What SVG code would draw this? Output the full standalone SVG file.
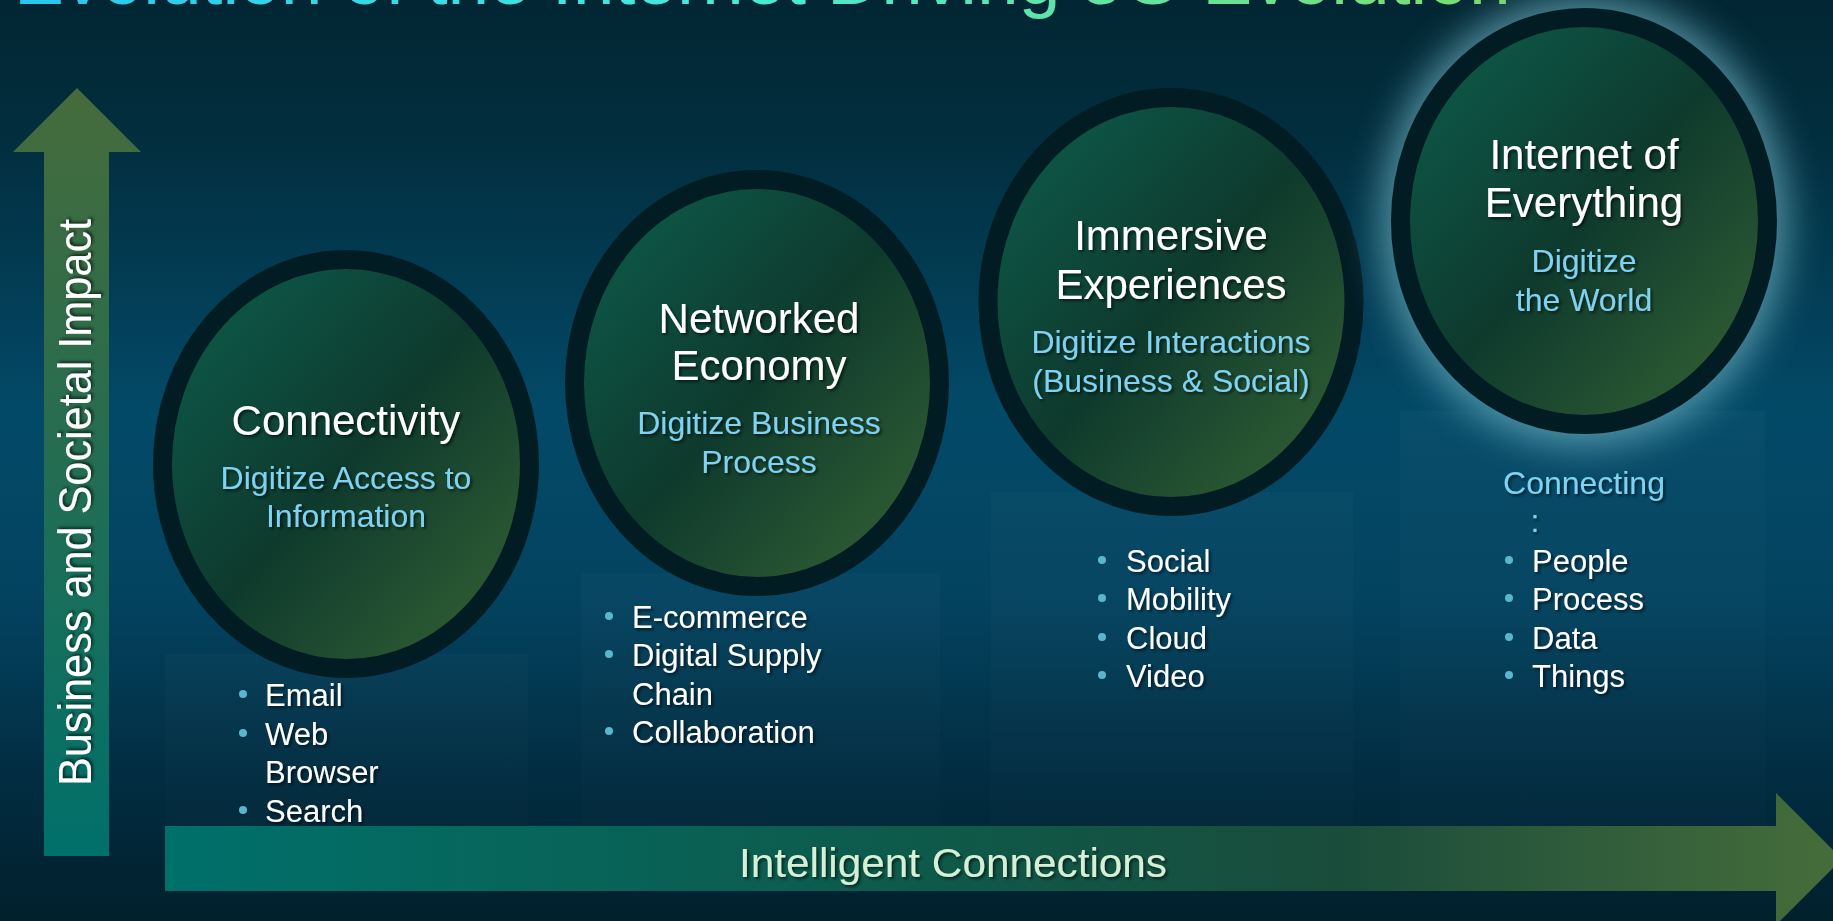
<svg xmlns="http://www.w3.org/2000/svg" width="1833" height="921" viewBox="0 0 1833 921">
<defs>
<linearGradient id="bg" x1="0" y1="0" x2="0" y2="1">
<stop offset="0" stop-color="#022633"/>
<stop offset="0.15" stop-color="#022e3e"/>
<stop offset="0.45" stop-color="#034a68"/>
<stop offset="0.65" stop-color="#034360"/>
<stop offset="0.85" stop-color="#022c40"/>
<stop offset="1" stop-color="#01202c"/>
</linearGradient>
<linearGradient id="titleGrad" gradientUnits="userSpaceOnUse" x1="14" y1="0" x2="1508" y2="0">
<stop offset="0" stop-color="#27c6ee"/>
<stop offset="0.45" stop-color="#45eadc"/>
<stop offset="1" stop-color="#7ddc6e"/>
</linearGradient>
<linearGradient id="vArrow" gradientUnits="userSpaceOnUse" x1="0" y1="88" x2="0" y2="856">
<stop offset="0" stop-color="#466b3b"/>
<stop offset="1" stop-color="#00706b"/>
</linearGradient>
<linearGradient id="hArrow" gradientUnits="userSpaceOnUse" x1="165" y1="0" x2="1842" y2="0">
<stop offset="0" stop-color="#00706b"/>
<stop offset="0.45" stop-color="#0e5a4a"/>
<stop offset="0.7" stop-color="#1a4c3b"/>
<stop offset="1" stop-color="#466d3a"/>
</linearGradient>
<linearGradient id="ballGrad" x1="0" y1="0" x2="1" y2="1">
<stop offset="0" stop-color="#0c6050"/>
<stop offset="0.5" stop-color="#0e3a2d"/>
<stop offset="1" stop-color="#386634"/>
</linearGradient>
<linearGradient id="colGrad" x1="0" y1="0" x2="0" y2="1">
<stop offset="0" stop-color="#ffffff" stop-opacity="0.02"/>
<stop offset="1" stop-color="#ffffff" stop-opacity="0.008"/>
</linearGradient>
<filter id="shadow" x="-10%" y="-30%" width="120%" height="160%">
<feDropShadow dx="2" dy="2" stdDeviation="1.5" flood-color="#000000" flood-opacity="0.6"/>
</filter>
<filter id="glow" x="-40%" y="-40%" width="180%" height="180%">
<feGaussianBlur stdDeviation="18"/>
</filter>
<style>
.ring{fill:url(#ballGrad);stroke:#021c24;stroke-width:19}
.head{font-family:"Liberation Sans",Arial,sans-serif;font-size:42px;fill:#ffffff;text-anchor:middle;filter:url(#shadow)}
.sub{font-family:"Liberation Sans",Arial,sans-serif;font-size:32px;fill:#7fd2f2;text-anchor:middle;filter:url(#shadow)}
.item{font-family:"Liberation Sans",Arial,sans-serif;font-size:31px;fill:#ffffff;filter:url(#shadow)}
.dot{fill:#5ab6cc}
.col{fill:url(#colGrad)}
</style>
</defs>

<rect x="0" y="0" width="1833" height="921" fill="url(#bg)"/>

<text x="14" y="4" font-family="Liberation Sans, Arial, sans-serif" font-size="75" fill="url(#titleGrad)">Evolution of the Internet Driving 5G Evolution</text>

<g id="columns">
<rect class="col" x="165" y="654" width="363" height="172"/>
<rect class="col" x="581" y="573" width="359" height="253"/>
<rect class="col" x="991" y="492" width="362" height="334"/>
<rect class="col" x="1400" y="411" width="365" height="415"/>
</g>

<g id="connectors">
<g id="axis-impact">
<polygon points="44,856 44,152 13,152 77,88 141,152 109,152 109,856" fill="url(#vArrow)"/>
<text transform="translate(91,786) rotate(-90)" font-family="Liberation Sans, Arial, sans-serif" font-size="46" fill="#ffffff" textLength="567" lengthAdjust="spacingAndGlyphs" filter="url(#shadow)">Business and Societal  Impact</text>
</g>
<g id="axis-connections">
<polygon points="165,826 1776,826 1776,793 1842,859 1776,925 1776,891 165,891" fill="url(#hArrow)"/>
<text x="953" y="877" font-family="Liberation Sans, Arial, sans-serif" font-size="41" fill="#d6f0d8" text-anchor="middle" textLength="428" lengthAdjust="spacingAndGlyphs" filter="url(#shadow)">Intelligent Connections</text>
</g>
</g>

<g id="node-connectivity">
<ellipse class="ring" cx="346" cy="464" rx="183.5" ry="204.5"/>
<text class="head" x="346" y="435">Connectivity</text>
<text class="sub" x="346" y="489">Digitize Access to</text>
<text class="sub" x="346" y="527">Information</text>
<circle class="dot" cx="243" cy="694" r="4"/>
<text class="item" x="265" y="706">Email</text>
<circle class="dot" cx="243" cy="733" r="4"/>
<text class="item" x="265" y="745">Web</text>
<text class="item" x="265" y="783">Browser</text>
<circle class="dot" cx="243" cy="810" r="4"/>
<text class="item" x="265" y="822">Search</text>
</g>

<g id="node-networked-economy">
<ellipse class="ring" cx="757" cy="383" rx="182.5" ry="203.5"/>
<text class="head" x="759" y="333">Networked</text>
<text class="head" x="759" y="380">Economy</text>
<text class="sub" x="759" y="434">Digitize Business</text>
<text class="sub" x="759" y="473">Process</text>
<circle class="dot" cx="609" cy="616" r="4"/>
<text class="item" x="632" y="628">E-commerce</text>
<circle class="dot" cx="609" cy="654" r="4"/>
<text class="item" x="632" y="666">Digital Supply</text>
<text class="item" x="632" y="705">Chain</text>
<circle class="dot" cx="609" cy="731" r="4"/>
<text class="item" x="632" y="743">Collaboration</text>
</g>

<g id="node-immersive-experiences">
<ellipse class="ring" cx="1171" cy="302" rx="183" ry="204.5"/>
<text class="head" x="1171" y="250">Immersive</text>
<text class="head" x="1171" y="299">Experiences</text>
<text class="sub" x="1171" y="353">Digitize Interactions</text>
<text class="sub" x="1171" y="392">(Business &amp; Social)</text>
<circle class="dot" cx="1102" cy="560" r="4"/>
<text class="item" x="1126" y="572">Social</text>
<circle class="dot" cx="1102" cy="598" r="4"/>
<text class="item" x="1126" y="610">Mobility</text>
<circle class="dot" cx="1102" cy="637" r="4"/>
<text class="item" x="1126" y="649">Cloud</text>
<circle class="dot" cx="1102" cy="675" r="4"/>
<text class="item" x="1126" y="687">Video</text>
</g>

<g id="node-internet-of-everything">
<ellipse cx="1584" cy="221" rx="204" ry="225" fill="#6fb4c2" opacity="0.7" filter="url(#glow)"/>
<ellipse class="ring" cx="1584" cy="221" rx="183.5" ry="203.5"/>
<text class="head" x="1584" y="169">Internet of</text>
<text class="head" x="1584" y="217">Everything</text>
<text class="sub" x="1584" y="272">Digitize</text>
<text class="sub" x="1584" y="311">the World</text>
<text class="sub" x="1584" y="494">Connecting</text>
<text class="sub" x="1535" y="532" text-anchor="start">:</text>
<circle class="dot" cx="1509" cy="560" r="4"/>
<text class="item" x="1532" y="572">People</text>
<circle class="dot" cx="1509" cy="598" r="4"/>
<text class="item" x="1532" y="610">Process</text>
<circle class="dot" cx="1509" cy="637" r="4"/>
<text class="item" x="1532" y="649">Data</text>
<circle class="dot" cx="1509" cy="675" r="4"/>
<text class="item" x="1532" y="687">Things</text>
</g>
</svg>
